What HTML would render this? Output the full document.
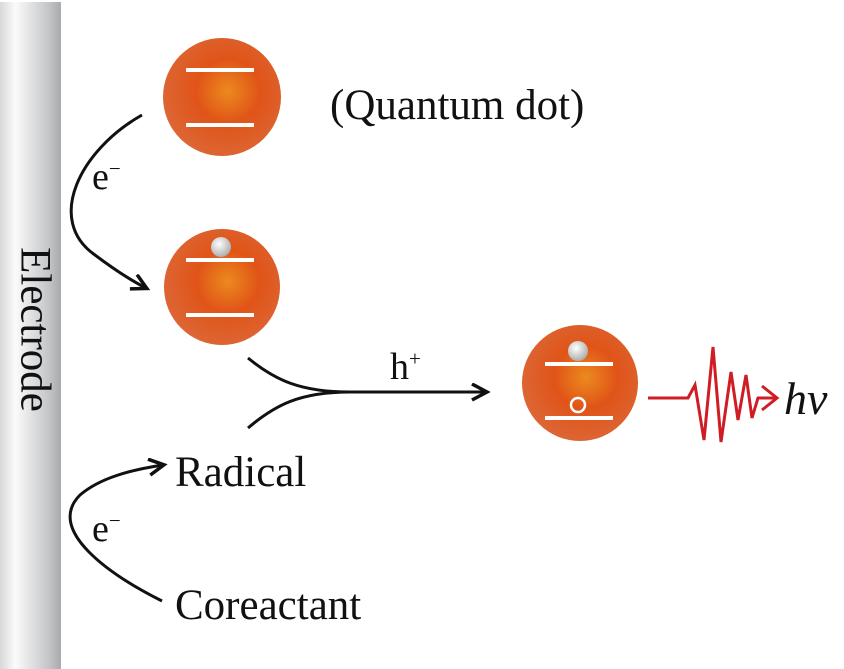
<!DOCTYPE html>
<html><head><style>
body{margin:0;width:844px;height:669px;background:#fff;overflow:hidden;position:relative;font-family:"Liberation Serif",serif;}
.t{position:absolute;color:#111;white-space:nowrap;line-height:1;}
</style></head><body>
<svg width="844" height="669" style="position:absolute;left:0;top:0">
<defs>
<linearGradient id="el" x1="0" x2="1" y1="0" y2="0">
<stop offset="0" stop-color="#d8d8da"/><stop offset="0.25" stop-color="#fbfbfb"/><stop offset="0.8" stop-color="#c4c5c8"/><stop offset="1" stop-color="#a9aaad"/></linearGradient>
<radialGradient id="qd" cx="0.55" cy="0.45" r="0.6">
<stop offset="0" stop-color="#ec8a1e"/><stop offset="0.45" stop-color="#e05418"/><stop offset="1" stop-color="#dc6838"/></radialGradient>
<radialGradient id="ball" cx="0.4" cy="0.35" r="0.7">
<stop offset="0" stop-color="#fff"/><stop offset="1" stop-color="#a8a8a8"/></radialGradient>
<marker id="ah" markerWidth="20" markerHeight="20" refX="15" refY="9" orient="auto" markerUnits="userSpaceOnUse"><path d="M1,1 L16,9 L1,17" fill="none" stroke="#111" stroke-width="3.5"/></marker>
</defs>
<rect x="0" y="2" width="61" height="667" fill="url(#el)"/>
<circle cx="222" cy="97" r="59" fill="url(#qd)"/>
<rect x="186" y="68" width="68" height="4" fill="#fff"/><rect x="186" y="123" width="68" height="4" fill="#fff"/>
<circle cx="222" cy="287" r="58" fill="url(#qd)"/>
<rect x="186" y="258" width="68" height="4" fill="#fff"/><rect x="186" y="313" width="68" height="4" fill="#fff"/>
<circle cx="221" cy="247" r="10" fill="url(#ball)"/>
<circle cx="580" cy="383" r="58" fill="url(#qd)"/>
<rect x="545" y="362" width="68" height="4" fill="#fff"/><rect x="545" y="416" width="68" height="4" fill="#fff"/>
<circle cx="578" cy="351" r="10" fill="url(#ball)"/>
<circle cx="578" cy="405" r="7" fill="none" stroke="#fff" stroke-width="2.5"/>
<path d="M142,115 C80,150 45,220 95,255 C115,270 130,280 146,288" fill="none" stroke="#111" stroke-width="3" marker-end="url(#ah)"/>
<path d="M248,358 C275,380 300,392 350,392 L486,392" fill="none" stroke="#111" stroke-width="3" marker-end="url(#ah)"/>
<path d="M248,428 C275,405 300,392 350,392" fill="none" stroke="#111" stroke-width="3"/>
<path d="M162,601 C110,575 45,530 80,495 C100,478 130,470 163,465" fill="none" stroke="#111" stroke-width="3" marker-end="url(#ah)"/>
<path d="M648,398 L688,398 L695,385 L704,440 L713,347 L721,442 L731,372 L738,420 L746,375 L752,418 L758,398 L775,398" fill="none" stroke="#d01c24" stroke-width="3" stroke-linejoin="miter"/>
<path d="M762,386 L777,398 L762,410" fill="none" stroke="#d01c24" stroke-width="3"/>
</svg>
<div class="t" style="left:330px;top:84px;font-size:43px">(Quantum dot)</div>
<div class="t" style="left:-65px;top:308px;font-size:43px;transform:rotate(90deg);width:200px;text-align:center">Electrode</div>
<div class="t" style="left:92px;top:158px;font-size:38px">e<sup style="font-size:21px">−</sup></div>
<div class="t" style="left:92px;top:510px;font-size:38px">e<sup style="font-size:21px">−</sup></div>
<div class="t" style="left:390px;top:348px;font-size:38px">h<sup style="font-size:21px">+</sup></div>
<div class="t" style="left:175px;top:451px;font-size:43px">Radical</div>
<div class="t" style="left:175px;top:584px;font-size:43px">Coreactant</div>
<div class="t" style="left:784px;top:376px;font-size:46px;font-style:italic">hν</div>
</body></html>
